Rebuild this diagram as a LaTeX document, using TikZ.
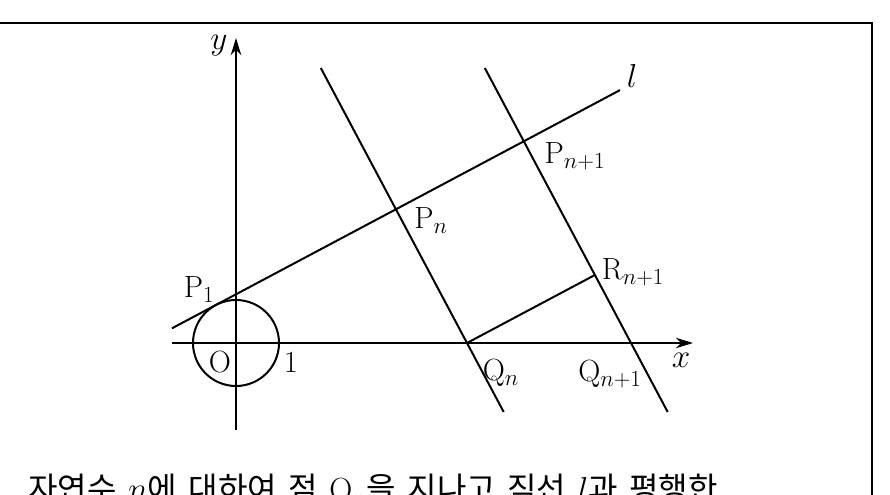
\documentclass[tikz,border=0pt]{standalone}
\usepackage{fontspec}
\newfontfamily\kofont{Noto Sans CJK KR}
\usetikzlibrary{arrows.meta}

\tikzset{every picture/.style={line width=0.75pt}}
\tikzset{
  geo/.style={line width=1.5pt},
  axis/.style={line width=1.1pt,-{Stealth[length=13pt,width=8pt]}},
  lbl/.style={inner sep=0pt,font=\fontsize{23}{27}\selectfont}
}

\begin{document}
\begin{tikzpicture}[x=0.75pt,y=0.75pt,yscale=-1,xscale=1]
\useasboundingbox (0,0) rectangle (890,495);

%Frame
\draw [line width=1.5pt] (0,23) -- (872,23) -- (872,520) ;

%Points
\coordinate (O) at (236,343) ;
\coordinate (P1) at (236,294.3) ;
\coordinate (Pn) at (395.9,209.3) ;
\coordinate (Pm) at (523.8,141.3) ;
\coordinate (Qn) at (467,343) ;
\coordinate (Qm) at (631,343) ;
\coordinate (Rm) at (594.9,275) ;
\coordinate (lA) at (172,328.3) ;
\coordinate (lB) at (620,90.1) ;

%Axes
\draw [axis] (172,343) -- (693,343) ;
\draw [axis] (236,430) -- (236,38) ;

%Shape: Circle
\draw [geo] (O) circle [radius=43] ;

%Line l
\draw [geo] (lA) -- (P1) -- (Pn) -- (Pm) -- (lB) ;
%Perpendicular through Qn
\draw [geo] (320.8,68) -- (Pn) -- (Qn) -- (503.7,412) ;
%Perpendicular through Qn+1
\draw [geo] (484.8,68) -- (Pm) -- (Rm) -- (Qm) -- (667.7,412) ;
%Qn to Rn+1
\draw [geo] (Qn) -- (Rm) ;

% Text Node
\node [lbl] (ty) at (219,46) {$y$};
\node [lbl] (tx) at (681,360) {$x$};
\node [lbl] (tl) at (632,76) {$l$};
\node [lbl] (tO) at (220,362) {O};
\node [lbl] (t1) at (291,362) {1};
\node [lbl] (tP1) at (199,290) {P$_1$};
\node [lbl] (tPn) at (431,221) {P$_n$};
\node [lbl] (tPm) at (575,156) {P$_{n+1}$};
\node [lbl] (tRm) at (633,272) {R$_{n+1}$};
\node [lbl] (tQn) at (501,373) {Q$_n$};
\node [lbl] (tQm) at (610,374) {Q$_{n+1}$};

% Text Node
\node [inner sep=0pt,anchor=base west,font=\fontsize{24}{28}\selectfont] (txt) at (28,501)
  {\kofont\spaceskip=0.36em 자연수 $n$에 대하여 점 $\mathrm{Q}_n$을 지나고 직선 $l$과 평행한};

\end{tikzpicture}
\end{document}
